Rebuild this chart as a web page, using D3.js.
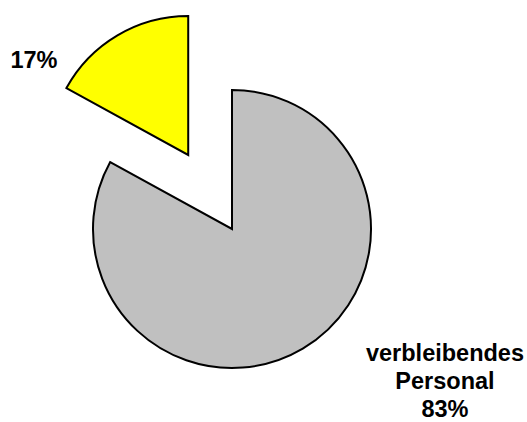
<!DOCTYPE html>
<html>
<head>
<meta charset="utf-8">
<script src="https://cdn.jsdelivr.net/npm/d3@7"></script>
<style>
  html, body { margin: 0; padding: 0; background: #fff; }
  svg { display: block; }
  text { font-family: "Liberation Sans", Arial, Helvetica, sans-serif; font-weight: bold; fill: #000; }
</style>
</head>
<body>
<svg id="chart" width="527" height="422"></svg>
<script>
// Staff split
const categories = ["verbleibendes Personal", ""];
const values = [83, 17];
const colors = ["#c0c0c0", "#ffff00"];
const exploded = [false, true];

const width = 527, height = 422;
const cx = 232, cy = 229, radius = 139, explodeDist = 86;

const svg = d3.select("#chart");
const total = d3.sum(values);
const data = values.map((v, i) => ({ name: categories[i], value: v, color: colors[i], explode: exploded[i] }));

const pie = d3.pie().sort(null).value(d => d.value).startAngle(0).endAngle(2 * Math.PI);
const arc = d3.arc().innerRadius(0).outerRadius(radius);
const arcs = pie(data);

const g = svg.append("g").attr("transform", `translate(${cx},${cy})`);

g.selectAll("path.slice")
  .data(arcs)
  .join("path")
  .attr("class", "slice")
  .attr("d", arc)
  .attr("fill", d => d.data.color)
  .attr("stroke", "#000")
  .attr("stroke-width", 2)
  .attr("stroke-linejoin", "miter")
  .attr("transform", d => {
    if (!d.data.explode) return null;
    const mid = (d.startAngle + d.endAngle) / 2;
    return `translate(${Math.sin(mid) * explodeDist},${-Math.cos(mid) * explodeDist})`;
  });

// Labels: category name lines followed by percentage
const labelAnchors = [
  { x: 445, y: 361 },
  { x: 34, y: 68 }
];
const lineHeight = 28;

arcs.forEach((d, i) => {
  const pct = Math.round(d.data.value / total * 100) + "%";
  const lines = d.data.name ? d.data.name.split(" ").concat([pct]) : [pct];
  const t = svg.append("text")
    .attr("text-anchor", "middle")
    .attr("font-size", 23.5);
  lines.forEach((ln, k) => {
    t.append("tspan")
      .attr("x", labelAnchors[i].x)
      .attr("y", labelAnchors[i].y + k * lineHeight)
      .text(ln);
  });
});
</script>
</body>
</html>
